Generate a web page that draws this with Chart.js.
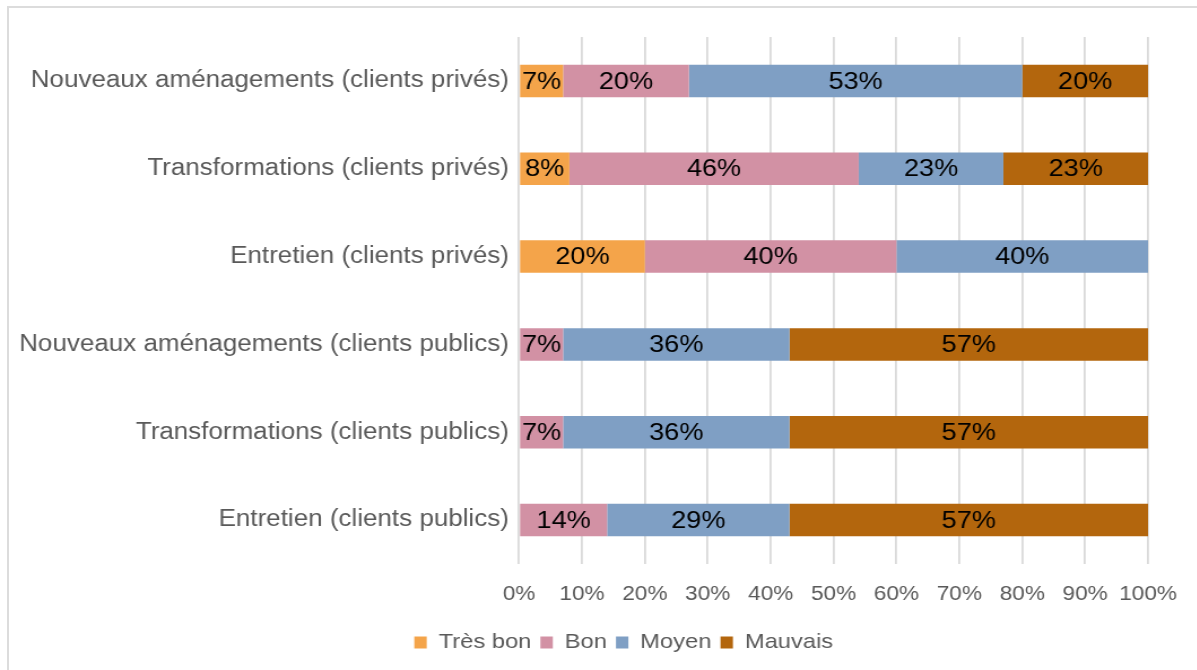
<!DOCTYPE html>
<html>
<head>
<meta charset="utf-8">
<script src="https://cdn.jsdelivr.net/npm/chart.js@4"></script>
<style>
    html, body { margin: 0; padding: 0; background: #fff; overflow: hidden; }
    #frame {
        position: absolute; left: 7px; top: 6px;
        width: 1233px; height: 690px;
        border: 2px solid #dcdcdc; box-sizing: border-box;
    }
    /* the source picture is a little stretched sideways */
    #wrap { transform: scaleX(1.13); transform-origin: 0 0; width: 1088px; }
    #chart { display: block; }
</style>
</head>
<body>
<div id="frame"><div id="wrap"><canvas id="chart" width="1088" height="686"></canvas></div></div>
<script>
// Categories (top to bottom) and the four rating shares
const categories = [
    'Nouveaux aménagements (clients privés)',
    'Transformations (clients privés)',
    'Entretien (clients privés)',
    'Nouveaux aménagements (clients publics)',
    'Transformations (clients publics)',
    'Entretien (clients publics)',
];
const tresBon = [7, 8, 20, 0, 0, 0];
const bon     = [20, 46, 40, 7, 7, 14];
const moyen   = [53, 23, 40, 36, 36, 29];
const mauvais = [20, 23, 0, 57, 57, 57];

const xTicks = [0, 10, 20, 30, 40, 50, 60, 70, 80, 90, 100];

const seriesNames = ['Très bon', 'Bon', 'Moyen', 'Mauvais'];
const seriesColors = ['#f4a44a', '#d291a4', '#7f9fc4', '#b3660d'];

const FONT = '"Liberation Sans", Arial, sans-serif';

// draws the % text in the middle of each segment
const barLabels = {
    id: 'barLabels',
    afterDatasetsDraw(chart) {
        const ctx = chart.ctx;
        ctx.save();
        ctx.font = '24px ' + FONT;
        ctx.fillStyle = '#000';
        ctx.textAlign = 'center';
        ctx.textBaseline = 'middle';
        chart.data.datasets.forEach((ds, i) => {
            const meta = chart.getDatasetMeta(i);
            meta.data.forEach((bar, j) => {
                const v = ds.data[j];
                if (!v) return;
                ctx.fillText(v + '%', (bar.x + bar.base) / 2, bar.y + 1);
            });
        });
        ctx.restore();
    }
};

// the legend sits centred in the whole frame, not under the padded area
const legendShift = {
    id: 'legendShift',
    afterLayout(chart) {
        if (chart.legend) chart.legend.left += 80;
    }
};

const allSeries = [tresBon, bon, moyen, mauvais];

new Chart(document.getElementById('chart'), {
    type: 'bar',
    data: {
        labels: categories,
        datasets: allSeries.map((d, i) => ({
            label: seriesNames[i],
            data: d,
            backgroundColor: seriesColors[i],
            borderWidth: 0,
            categoryPercentage: 1,
            barPercentage: 0.37,
        }))
    },
    options: {
        indexAxis: 'y',
        responsive: false,
        animation: false,
        layout: { padding: { top: 29, right: 80, left: 0, bottom: 31 } },
        scales: {
            x: {
                stacked: true,
                min: 0,
                max: 100,
                afterBuildTicks: axis => { axis.ticks = xTicks.map(v => ({ value: v })); },
                grid: { color: '#dadada', lineWidth: 1.8, drawTicks: false },
                border: { display: false },
                ticks: {
                    color: '#595959',
                    padding: 18,
                    font: { size: 20, family: FONT },
                    callback: v => v + '%',
                    maxRotation: 0,
                }
            },
            y: {
                stacked: true,
                grid: { display: false, drawTicks: false },
                border: { display: false },
                ticks: {
                    color: '#595959',
                    padding: 9,
                    font: { size: 23, family: FONT },
                }
            }
        },
        plugins: {
            legend: {
                position: 'bottom',
                labels: {
                    color: '#595959',
                    boxWidth: 11,
                    boxHeight: 12,
                    padding: 8,
                    font: { size: 21, family: FONT },
                }
            },
            tooltip: { enabled: false },
        }
    },
    plugins: [barLabels, legendShift]
});
</script>
</body>
</html>
